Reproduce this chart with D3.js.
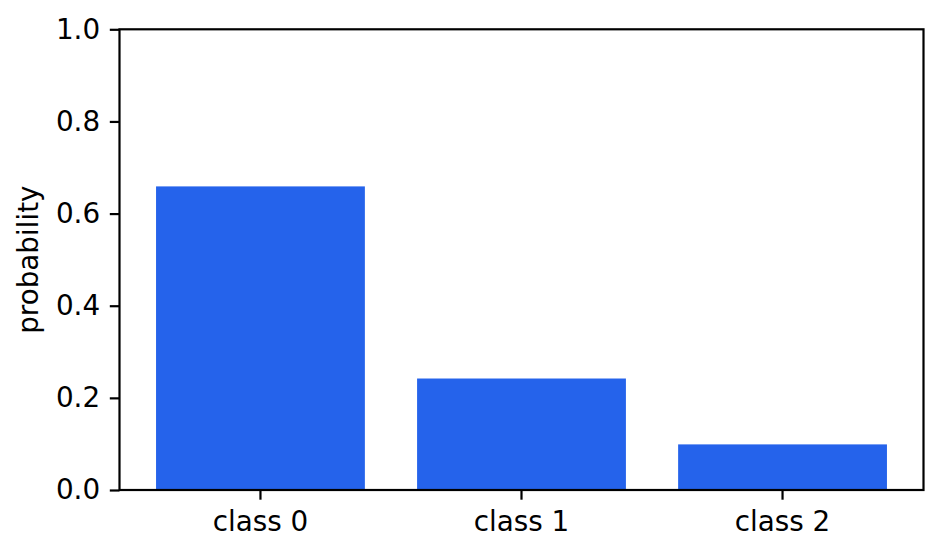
<!DOCTYPE html>
<html>
<head>
<meta charset="utf-8">
<script src="https://cdn.jsdelivr.net/npm/d3@7"></script>
<style>
  body { margin:0; background:#fff; }
  .canvas text { font-family:"DejaVu Sans", sans-serif; fill:#000; }
</style>
</head>
<body>
<div class="canvas" id="plot"></div>
<script>
//Data
var categories = ['class 0','class 1','class 2'];
var probabilities = [0.659, 0.242, 0.099];
var yTicks = [0, 0.2, 0.4, 0.6, 0.8, 1.0];

//Drawing environment: 942x555 with the axes box inside
var W = 942, H = 555;
var margin = {t:29.3,r:18.5,b:65,l:119.5};
var width = W-margin.l-margin.r,
	height = H-margin.t-margin.b;

var fontPx = 27.8,   //10pt at 200dpi
	tickLen = 9.7,
	tickPad = 9.7,
	lineW = 2.2;

var svg = d3.select('.canvas')
	.append('svg')
	.attr('width',W)
	.attr('height',H);

var plot = svg.append('g')
	.attr('class','plot')
	.attr('transform','translate('+margin.l+','+margin.t+')');

//band scale: bar width 0.8, matplotlib's 5% margins give the outer padding
var x = d3.scaleBand()
	.domain(categories)
	.range([0,width])
	.paddingInner(0.2)
	.paddingOuter(0.14);

var y = d3.scaleLinear()
	.domain([0,1])
	.range([height,0]);

//bars
plot.selectAll('.bar')
	.data(probabilities)
	.enter()
	.append('rect')
	.attr('class','bar')
	.attr('x',function(d,i){ return x(categories[i]); })
	.attr('y',function(d){ return y(d); })
	.attr('width',x.bandwidth())
	.attr('height',function(d){ return y(0)-y(d); })
	.style('fill','#2563eb');

//axes
var xAxis = d3.axisBottom(x)
	.tickSize(tickLen)
	.tickPadding(tickPad)
	.tickSizeOuter(0);

var yAxis = d3.axisLeft(y)
	.tickValues(yTicks)
	.tickFormat(d3.format('.1f'))
	.tickSize(tickLen)
	.tickPadding(tickPad)
	.tickSizeOuter(0);

var gx = plot.append('g')
	.attr('transform','translate(0,'+height+')')
	.call(xAxis);

var gy = plot.append('g')
	.call(yAxis);

[gx,gy].forEach(function(g){
	g.select('.domain').remove();
	g.selectAll('line').attr('stroke','#000').attr('stroke-width',lineW);
	g.selectAll('text')
		.style('font-family','"DejaVu Sans", sans-serif')
		.style('font-size',fontPx+'px')
		.attr('fill','#000');
});

//put x labels on the measured baseline
gx.selectAll('text')
	.attr('dy',null)
	.attr('y',tickLen+tickPad+fontPx*0.76);

//frame (all four spines)
plot.append('rect')
	.attr('x',0)
	.attr('y',0)
	.attr('width',width)
	.attr('height',height)
	.attr('fill','none')
	.attr('stroke','#000')
	.attr('stroke-width',lineW);

//y label
svg.append('text')
	.attr('transform','translate(38,'+(margin.t+height/2)+') rotate(-90)')
	.attr('text-anchor','middle')
	.style('font-size',fontPx+'px')
	.text('probability');
</script>
</body>
</html>
